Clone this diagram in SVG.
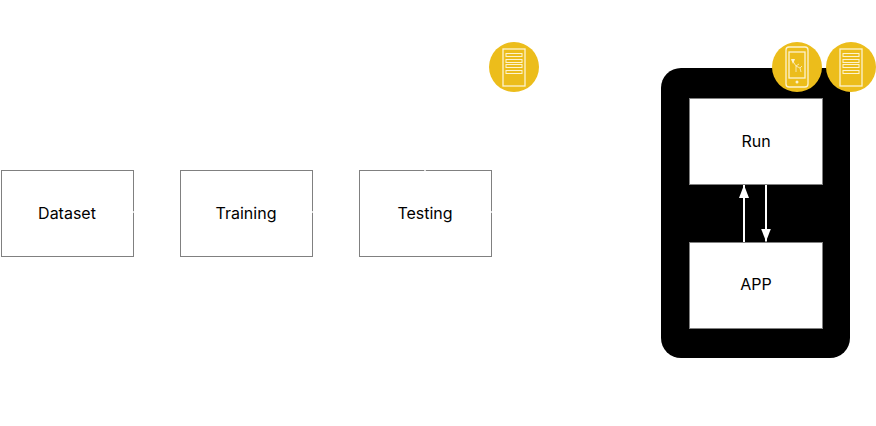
<svg xmlns="http://www.w3.org/2000/svg" width="876" height="426" viewBox="0 0 876 426">
<style>
.box{fill:#fff;stroke:#808080;stroke-width:1}
.lbl{font-family:"Inter","Liberation Sans",sans-serif;font-size:16px;fill:#000;text-anchor:middle}
.badge{fill:#ecbd1b}
.ic{fill:none;stroke:#fdf3cf;stroke-width:1.3}
.wire{fill:none;stroke:#fff;stroke-width:1.5}
.bar{fill:#ecbd1b;stroke:#fdf3cf;stroke-width:1}
.flow{fill:none;stroke:#fff;stroke-width:2}
</style>
<defs>
<marker id="ah" markerUnits="userSpaceOnUse" markerWidth="13" markerHeight="10" refX="13" refY="5" orient="auto"><path d="M0,0L13,5L0,10Z" fill="#fff"/></marker>
<g id="server">
<circle cx="0" cy="0" r="25" class="badge"/>
<rect x="-11" y="-18" width="22" height="37" class="ic"/>
<rect x="-8" y="-13.500" width="16" height="3" class="bar"/>
<rect x="-8" y="-7.500" width="16" height="3" class="bar"/>
<rect x="-8" y="-2.500" width="16" height="3" class="bar"/>
<rect x="-8" y="3.500" width="16" height="3" class="bar"/>
</g>
</defs>
<g id="container"><rect x="661" y="68" width="189" height="290" rx="20" ry="20" fill="#000"/></g>
<g id="dataset"><rect class="box" x="1.500" y="170.500" width="132" height="86"/><text class="lbl" x="67" y="219">Dataset</text></g>
<g id="training"><rect class="box" x="180.500" y="170.500" width="132" height="86"/><text class="lbl" x="246" y="219">Training</text></g>
<g id="testing"><rect class="box" x="359.500" y="170.500" width="132" height="86"/><text class="lbl" x="425" y="219">Testing</text></g>
<g id="run"><rect class="box" x="689.500" y="98.500" width="133" height="86"/><text class="lbl" x="756" y="147">Run</text></g>
<g id="app"><rect class="box" x="689.500" y="242.500" width="133" height="86"/><text class="lbl" x="756" y="290">APP</text></g>
<g id="server-testing" transform="translate(514,67)"><use href="#server"/></g>
<g id="device" transform="translate(797,67)">
<circle r="25" class="badge"/>
<rect x="-11" y="-20" width="22" height="40" rx="3" class="ic"/>
<rect x="-8" y="-15" width="16" height="26" class="ic" stroke-width="1"/>
<circle cx="0" cy="15" r="1.500" fill="#fdf3cf"/>
<path d="M-5,-7L-1,-1L-1,5M-1,-1L2,-3M-1,-1L3,1L4,5M3,1L5,-1" fill="none" stroke="#fdf3cf" stroke-width=".8"/>
<path d="M-6,-8L-2,-8L-4,-3Z" fill="#fdf3cf"/>
</g>
<g id="server-run" transform="translate(851,67)"><use href="#server"/></g>
<g id="connectors">
<path class="wire" d="M133,212H135"/>
<path class="wire" d="M312,212H314"/>
<path class="wire" d="M491,212H493"/>
<path class="wire" d="M425,171V169"/>
<path class="flow" d="M744,242V185" marker-end="url(#ah)"/>
<path class="flow" d="M766,185V241.500" marker-end="url(#ah)"/>
</g>
</svg>
